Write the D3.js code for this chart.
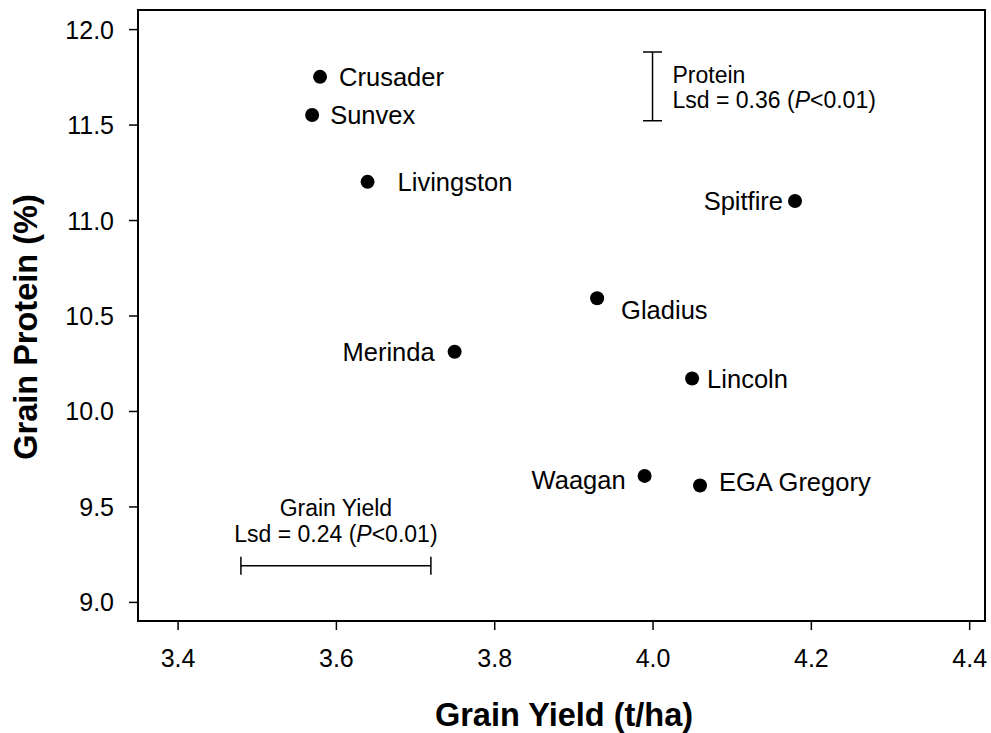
<!DOCTYPE html>
<html>
<head>
<meta charset="utf-8">
<script src="https://cdn.jsdelivr.net/npm/d3@7"></script>
<style>
  body { margin: 0; background: #fff; }
  text { font-family: "Liberation Sans", Arial, sans-serif; fill: #000; }
</style>
</head>
<body>
<svg id="chart" width="991" height="733"></svg>
<script>
// cultivar means
var cultivars = ["Crusader", "Sunvex", "Livingston", "Spitfire", "Gladius", "Merinda", "Lincoln", "Waagan", "EGA Gregory"];
var grainYield = [3.58, 3.57, 3.64, 4.18, 3.93, 3.75, 4.05, 3.99, 4.06];
var grainProtein = [11.75, 11.55, 11.2, 11.1, 10.59, 10.31, 10.17, 9.66, 9.61];

var xTicks = [3.4, 3.6, 3.8, 4.0, 4.2, 4.4];
var yTicks = [9.0, 9.5, 10.0, 10.5, 11.0, 11.5, 12.0];

// lsd bars
var proteinLsd = {x: 4.0, y0: 11.52, y1: 11.88};
var yieldLsd = {y: 9.19, x0: 3.48, x1: 3.72};

// where each label sits relative to its dot
var labelPos = {
    "Crusader":    {dx: 19,  dy: 0,  anchor: "start"},
    "Sunvex":      {dx: 18,  dy: 0,  anchor: "start"},
    "Livingston":  {dx: 30,  dy: 0,  anchor: "start"},
    "Spitfire":    {dx: -12, dy: 0,  anchor: "end"},
    "Gladius":     {dx: 24,  dy: 12, anchor: "start"},
    "Merinda":     {dx: -20, dy: 0,  anchor: "end"},
    "Lincoln":     {dx: 15,  dy: 0,  anchor: "start"},
    "Waagan":      {dx: -19, dy: 4,  anchor: "end"},
    "EGA Gregory": {dx: 19,  dy: -4, anchor: "start"}
};

var svg = d3.select("#chart");
var pLeft = 138, pRight = 985, pTop = 10, pBottom = 621;

var x = d3.scaleLinear().domain([3.35, 4.42]).range([pLeft, pRight]);
var y = d3.scaleLinear().domain([8.9, 12.1]).range([pBottom, pTop]);

var xAxis = svg.append("g")
    .attr("transform", "translate(0," + pBottom + ")")
    .call(d3.axisBottom(x).tickValues(xTicks).tickFormat(d3.format(".1f")).tickSize(9).tickPadding(19).tickSizeOuter(0));
var yAxis = svg.append("g")
    .attr("transform", "translate(" + pLeft + ",0)")
    .call(d3.axisLeft(y).tickValues(yTicks).tickFormat(d3.format(".1f")).tickSize(9).tickPadding(15).tickSizeOuter(0));

[xAxis, yAxis].forEach(function(g) {
    g.select(".domain").remove();
    g.selectAll(".tick line").attr("stroke", "#000").attr("stroke-width", 1.5);
    g.selectAll(".tick text").style("font-size", "25px").attr("fill", "#000");
});
yAxis.selectAll(".tick text").attr("dy", "0.36em");

svg.append("rect")
    .attr("x", pLeft).attr("y", pTop)
    .attr("width", pRight - pLeft).attr("height", pBottom - pTop)
    .attr("fill", "none").attr("stroke", "#000").attr("stroke-width", 2);

// points
var data = cultivars.map(function(c, i) {
    return {name: c, yld: grainYield[i], prot: grainProtein[i]};
});

svg.selectAll(".dot")
    .data(data)
    .enter()
    .append("circle")
    .attr("class", "dot")
    .attr("cx", function(d) { return x(d.yld); })
    .attr("cy", function(d) { return y(d.prot); })
    .attr("r", 7)
    .attr("fill", "#000");

svg.selectAll(".lbl")
    .data(data)
    .enter()
    .append("text")
    .attr("class", "lbl")
    .attr("x", function(d) { return x(d.yld) + labelPos[d.name].dx; })
    .attr("y", function(d) { return y(d.prot) + labelPos[d.name].dy; })
    .attr("dy", "0.36em")
    .attr("text-anchor", function(d) { return labelPos[d.name].anchor; })
    .style("font-size", "25.5px")
    .text(function(d) { return d.name; });

// protein lsd (vertical)
var pg = svg.append("g").attr("stroke", "#000").attr("stroke-width", 1.5);
pg.append("line")
    .attr("x1", x(proteinLsd.x)).attr("x2", x(proteinLsd.x))
    .attr("y1", y(proteinLsd.y0)).attr("y2", y(proteinLsd.y1));
[proteinLsd.y0, proteinLsd.y1].forEach(function(v) {
    pg.append("line")
        .attr("x1", x(proteinLsd.x) - 9.5).attr("x2", x(proteinLsd.x) + 9.5)
        .attr("y1", y(v)).attr("y2", y(v));
});
svg.append("text")
    .attr("x", x(proteinLsd.x) + 20).attr("y", 83)
    .style("font-size", "23px")
    .text("Protein");
var pt = svg.append("text")
    .attr("x", x(proteinLsd.x) + 20).attr("y", 108)
    .style("font-size", "23px");
pt.append("tspan").text("Lsd = 0.36 (");
pt.append("tspan").style("font-style", "italic").text("P");
pt.append("tspan").text("<0.01)");

// yield lsd (horizontal)
var yg = svg.append("g").attr("stroke", "#000").attr("stroke-width", 1.5);
yg.append("line")
    .attr("x1", x(yieldLsd.x0)).attr("x2", x(yieldLsd.x1))
    .attr("y1", y(yieldLsd.y)).attr("y2", y(yieldLsd.y));
[yieldLsd.x0, yieldLsd.x1].forEach(function(v) {
    yg.append("line")
        .attr("x1", x(v)).attr("x2", x(v))
        .attr("y1", y(yieldLsd.y) - 9).attr("y2", y(yieldLsd.y) + 9);
});
var midX = x((yieldLsd.x0 + yieldLsd.x1) / 2);
svg.append("text")
    .attr("x", midX).attr("y", 516)
    .attr("text-anchor", "middle")
    .style("font-size", "23px")
    .text("Grain Yield");
var yt = svg.append("text")
    .attr("x", midX).attr("y", 542)
    .attr("text-anchor", "middle")
    .style("font-size", "23px");
yt.append("tspan").text("Lsd = 0.24 (");
yt.append("tspan").style("font-style", "italic").text("P");
yt.append("tspan").text("<0.01)");

// axis titles
svg.append("text")
    .attr("x", 564).attr("y", 726)
    .attr("text-anchor", "middle")
    .style("font-size", "32.5px").style("font-weight", "bold")
    .text("Grain Yield (t/ha)");
svg.append("text")
    .attr("transform", "translate(37,327) rotate(-90)")
    .attr("text-anchor", "middle")
    .style("font-size", "32.5px").style("font-weight", "bold")
    .text("Grain Protein (%)");
</script>
</body>
</html>
